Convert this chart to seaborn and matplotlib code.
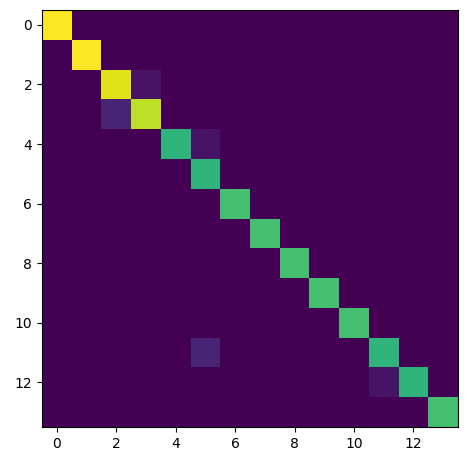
import matplotlib
matplotlib.use("Agg")
import matplotlib.pyplot as plt
import seaborn as sns
import numpy as np

n_classes = 14
class_labels = list(range(n_classes))
diag_counts = [20, 20, 19, 18, 13, 13, 14, 14, 14, 14, 14, 13, 13, 14]
# (true, pred, count) off-diagonal cells
off_diag = [(2, 3, 1), (3, 2, 2), (4, 5, 1), (11, 5, 2), (12, 11, 1)]

cm = np.zeros((n_classes, n_classes))
for i, v in enumerate(diag_counts):
    cm[i, i] = v
for r, c, v in off_diag:
    cm[r, c] = v

fig = plt.figure(figsize=(4.69, 4.65), dpi=100)
ax = fig.add_axes([42 / 469, 1 - 427 / 465, 416 / 469, 417 / 465])
sns.heatmap(cm, ax=ax, cmap="viridis", vmin=0, vmax=cm.max(), cbar=False,
            square=False, xticklabels=False, yticklabels=False)

ticks = class_labels[::2]
ax.set_xticks([t + 0.5 for t in ticks])
ax.set_xticklabels([str(t) for t in ticks], rotation=0)
ax.set_yticks([t + 0.5 for t in ticks])
ax.set_yticklabels([str(t) for t in ticks], rotation=0)
ax.tick_params(axis="both", length=3.5, width=0.8, labelsize=10, color="black")
for s in ax.spines.values():
    s.set_visible(True)
    s.set_color("black")
    s.set_linewidth(0.8)

fig.savefig("out.png", dpi=100)
